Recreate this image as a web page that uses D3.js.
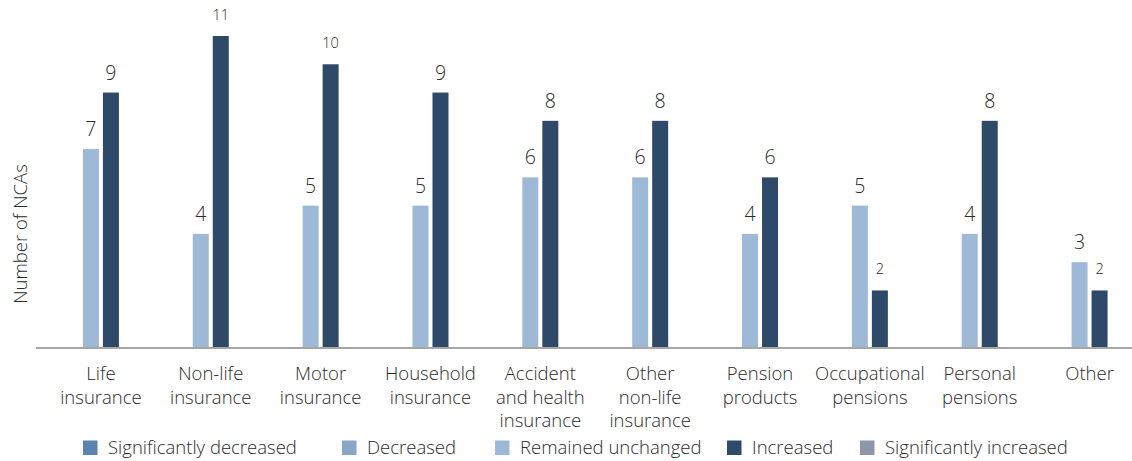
<!DOCTYPE html>
<html>
<head>
<meta charset="utf-8">
<script src="https://cdn.jsdelivr.net/npm/d3@7"></script>
<style>
  html, body { margin: 0; padding: 0; background: #fff; }
  svg { display: block; }
  text { font-family: "Open Sans", sans-serif; font-weight: 300; fill: #2b2b2b; }
</style>
</head>
<body>
<script>
const categories = [
  ["Life", "insurance"],
  ["Non-life", "insurance"],
  ["Motor", "insurance"],
  ["Household", "insurance"],
  ["Accident", "and health", "insurance"],
  ["Other", "non-life", "insurance"],
  ["Pension", "products"],
  ["Occupational", "pensions"],
  ["Personal", "pensions"],
  ["Other"]
];
const seriesNames = ["Significantly decreased", "Decreased", "Remained unchanged", "Increased", "Significantly increased"];
const seriesColors = ["#5b83af", "#8aa5c6", "#9eb9d5", "#2e4a68", "#8f96a9"];
const significantlyDecreased = [0, 0, 0, 0, 0, 0, 0, 0, 0, 0];
const decreased = [0, 0, 0, 0, 0, 0, 0, 0, 0, 0];
const remainedUnchanged = [7, 4, 5, 5, 6, 6, 4, 5, 4, 3];
const increased = [9, 11, 10, 9, 8, 8, 6, 2, 8, 2];
const significantlyIncreased = [0, 0, 0, 0, 0, 0, 0, 0, 0, 0];
const yAxisTitle = "Number of NCAs";

const W = 1132, H = 461;
const svg = d3.select("body").append("svg").attr("width", W).attr("height", H);

const keys = categories.map(c => c.join(" "));
const x = d3.scaleBand().domain(keys).range([46, 1144.5]);
const y = d3.scaleLinear().domain([0, 11]).range([347, 36]);

const visible = [
  { vals: remainedUnchanged, color: seriesColors[2], off: -18 },
  { vals: increased, color: seriesColors[3], off: 2 }
];
visible.forEach(s => {
  const g = svg.append("g");
  g.selectAll("rect").data(s.vals).join("rect")
    .attr("x", (d, i) => x(keys[i]) + x.bandwidth() / 2 + s.off)
    .attr("width", 16)
    .attr("y", d => y(d))
    .attr("height", d => y(0) - y(d))
    .attr("fill", s.color);
  g.selectAll("text").data(s.vals).join("text")
    .attr("x", (d, i) => x(keys[i]) + x.bandwidth() / 2 + s.off + 8)
    .attr("text-anchor", "middle")
    .each(function(d) {
      const str = String(d);
      const small = /^[012]+$/.test(str);
      d3.select(this)
        .attr("y", small ? y(d) - 16.5 : y(d) - 13)
        .attr("font-size", small ? 14.5 : 19.5)
        .text(str);
    });
});

svg.append("line")
  .attr("x1", 36).attr("x2", 1132)
  .attr("y1", y(0) + 1).attr("y2", y(0) + 1)
  .attr("stroke", "#a6a6a6").attr("stroke-width", 2);

const xAxis = svg.append("g");
categories.forEach((lines, i) => {
  const t = xAxis.append("text")
    .attr("text-anchor", "middle")
    .attr("font-size", 18.5);
  lines.forEach((ln, j) => {
    t.append("tspan")
      .attr("x", x(keys[i]) + x.bandwidth() / 2)
      .attr("y", 380 + j * 23.5)
      .text(ln);
  });
});

svg.append("text")
  .attr("transform", "translate(27,234) rotate(-90)")
  .attr("text-anchor", "middle")
  .attr("font-size", 18.5)
  .text(yAxisTitle);

const legendX = [83, 342, 495, 727, 860];
const leg = svg.append("g");
seriesNames.forEach((n, i) => {
  leg.append("rect")
    .attr("x", legendX[i]).attr("y", 440.5)
    .attr("width", 14.5).attr("height", 14.5)
    .attr("fill", seriesColors[i]);
  leg.append("text")
    .attr("x", legendX[i] + 25).attr("y", 454)
    .attr("font-size", 18.5)
    .text(n);
});
</script>
</body>
</html>
